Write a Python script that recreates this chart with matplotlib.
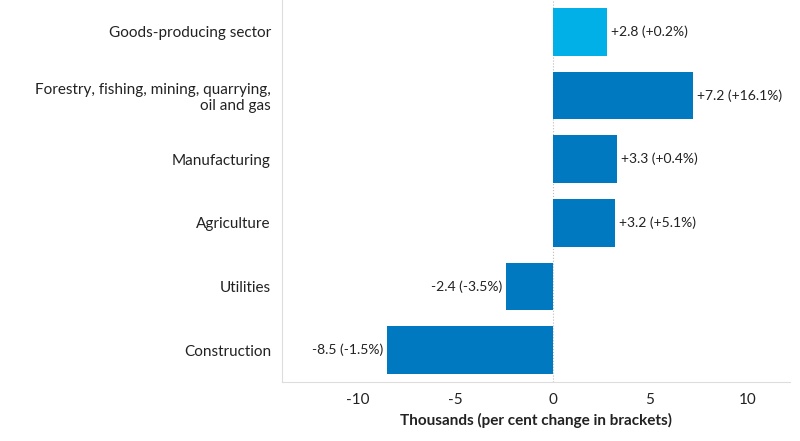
import matplotlib
matplotlib.use('Agg')
import matplotlib.pyplot as plt

plt.rcParams['font.family'] = ['Lato', 'DejaVu Sans']

categories = ["Goods-producing sector",
              "Forestry, fishing, mining, quarrying,\noil and gas",
              "Manufacturing", "Agriculture", "Utilities", "Construction"]
values = [2.8, 7.2, 3.3, 3.2, -2.4, -8.5]
labels = ["+2.8 (+0.2%)", "+7.2 (+16.1%)", "+3.3 (+0.4%)",
          "+3.2 (+5.1%)", "-2.4 (-3.5%)", "-8.5 (-1.5%)"]
colors = ['#00b0e6'] + ['#0079c1'] * 5

fig = plt.figure(figsize=(8, 4.41), dpi=100)
ax = fig.add_axes([282/800, 1 - 382/441, 508/800, 382/441])

y = list(range(len(categories)))[::-1]
ax.barh(y, values, height=0.75, color=colors)
for yi, v, lab in zip(y, values, labels):
    if v >= 0:
        ax.text(v + 0.2, yi, lab, va='center', ha='left', fontsize=10, color='#222222')
    else:
        ax.text(v - 0.2, yi, lab, va='center', ha='right', fontsize=10, color='#222222')

ax.set_xlim(-13.9, 12.2)
ax.set_ylim(-0.5, 5.5)
ax.set_yticks(y)
ax.set_yticklabels(categories, fontsize=11, color='#222222')
ax.set_xticks([-10, -5, 0, 5, 10])
ax.set_xticklabels(['-10', '-5', '0', '5', '10'], fontsize=11, color='#222222')
ax.tick_params(length=0, pad=8)
ax.axvline(0, color='#bbbbbb', lw=0.8, ls=':', zorder=0)
for s in ['top', 'right']:
    ax.spines[s].set_visible(False)
ax.spines['left'].set_color('#dddddd')
ax.spines['bottom'].set_color('#dddddd')
ax.set_xlabel('Thousands (per cent change in brackets)', fontsize=11,
              fontweight='bold', color='#222222', labelpad=4)

fig.savefig('out.png', dpi=100)
